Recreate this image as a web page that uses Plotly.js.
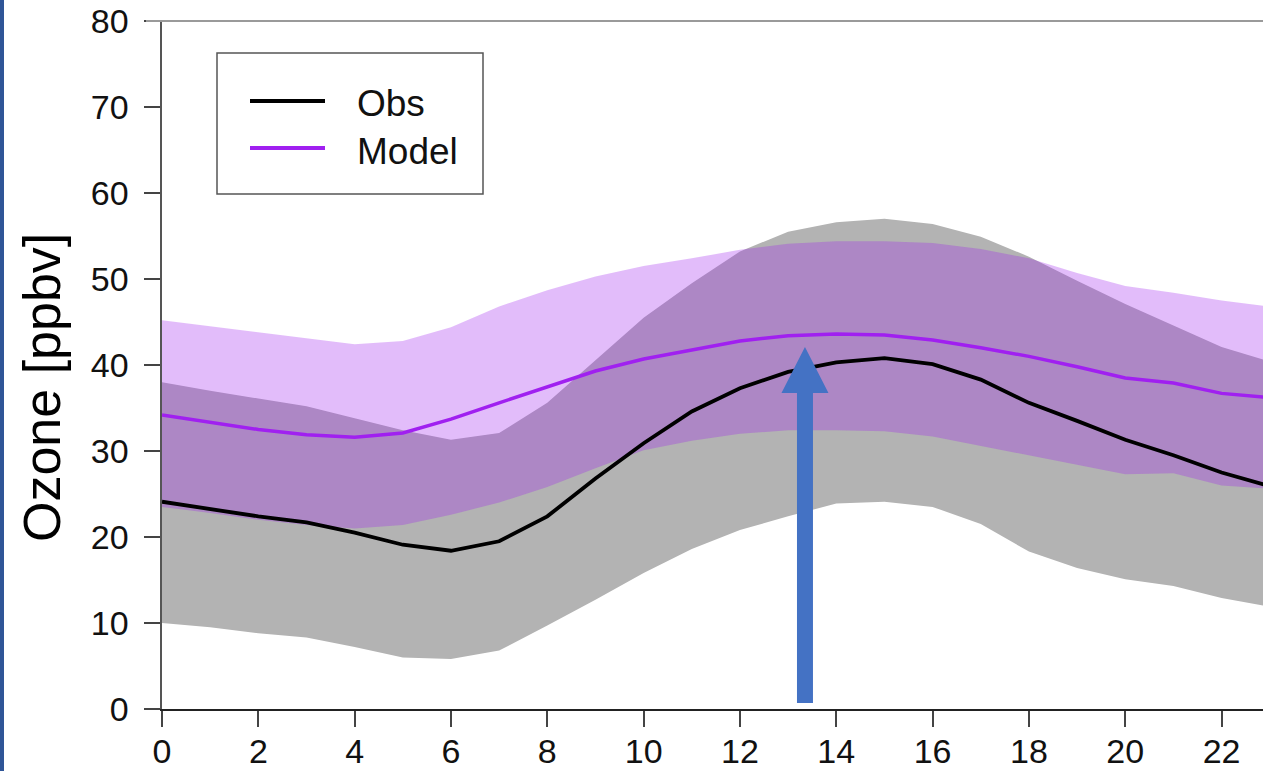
<!DOCTYPE html>
<html>
<head>
<meta charset="utf-8">
<script src="https://cdn.plot.ly/plotly-3.0.1.min.js"></script>
<style>
  html, body { margin: 0; padding: 0; background: #ffffff; }
  #chart { width: 1263px; height: 771px; }
</style>
</head>
<body>
<div id="chart"></div>
<script>
// Hour of day
const hours = [0,1,2,3,4,5,6,7,8,9,10,11,12,13,14,15,16,17,18,19,20,21,22,23];
// Observed ozone mean and spread [ppbv]
const obsMean = [24.1,23.2,22.4,21.7,20.5,19.1,18.4,19.5,22.4,26.8,30.9,34.6,37.3,39.2,40.3,40.8,40.1,38.3,35.6,33.5,31.3,29.5,27.5,25.9];
const obsUpper = [38.0,37.0,36.1,35.2,33.8,32.4,31.3,32.1,35.6,40.5,45.5,49.5,53.2,55.5,56.6,57.0,56.4,54.9,52.6,49.8,47.1,44.6,42.1,40.4];
const obsLower = [10.0,9.5,8.8,8.3,7.2,6.0,5.8,6.8,9.7,12.7,15.8,18.6,20.8,22.4,23.9,24.1,23.5,21.5,18.3,16.4,15.1,14.3,12.9,11.9];
// Model ozone mean and spread [ppbv]
const modelMean = [34.2,33.3,32.5,31.9,31.6,32.1,33.7,35.6,37.5,39.3,40.7,41.8,42.8,43.4,43.6,43.5,42.9,42.0,41.0,39.8,38.5,37.9,36.7,36.2];
const modelUpper = [45.2,44.5,43.8,43.1,42.4,42.8,44.4,46.8,48.7,50.3,51.5,52.4,53.4,54.1,54.4,54.4,54.2,53.5,52.4,50.7,49.2,48.4,47.5,46.8];
const modelLower = [23.5,22.8,22.0,21.4,21.0,21.4,22.6,24.0,25.8,28.0,30.1,31.2,32.0,32.4,32.4,32.3,31.7,30.6,29.5,28.4,27.3,27.4,26.0,25.6];
// Axis ticks
const xTicks = [0,2,4,6,8,10,12,14,16,18,20,22];
const yTicks = [0,10,20,30,40,50,60,70,80];
// Legend labels and axis title
const seriesNames = ["Obs", "Model"];
const yTitle = "Ozone [ppbv]";
// Highlight arrow (hour, ozone) annotation
const arrowHour = 13.35;
const arrowBase = 0.7;
const arrowTip = 42.1;
const arrowHeadBase = 36.75;

const FONT = "Liberation Sans, Arial, Helvetica, sans-serif";
const PURPLE = "rgb(160,32,240)";

const traces = [
  {x: hours, y: obsLower, mode: "lines", line: {width: 0, color: "rgba(0,0,0,0)"}, showlegend: false, hoverinfo: "skip"},
  {x: hours, y: obsUpper, mode: "lines", fill: "tonexty", fillcolor: "#b3b3b3", line: {width: 0, color: "rgba(0,0,0,0)"}, showlegend: false, hoverinfo: "skip"},
  {x: hours, y: modelLower, mode: "lines", line: {width: 0, color: "rgba(0,0,0,0)"}, showlegend: false, hoverinfo: "skip"},
  {x: hours, y: modelUpper, mode: "lines", fill: "tonexty", fillcolor: "rgba(160,32,240,0.3)", line: {width: 0, color: "rgba(0,0,0,0)"}, showlegend: false, hoverinfo: "skip"},
  {x: hours, y: obsMean, mode: "lines", name: seriesNames[0], line: {color: "#000000", width: 3.8}, showlegend: false},
  {x: hours, y: modelMean, mode: "lines", name: seriesNames[1], line: {color: PURPLE, width: 3.5}, showlegend: false}
];

// plot area geometry (px) for paper-relative legend placement
const L = 162, T = 21, W = 1101, H = 688;
const px = v => (v - L) / W;
const py = v => (T + H - v) / H;

const hw = 0.166, hh = 0.488;
const arrowPath = "M " + (arrowHour - hw) + "," + arrowBase +
  " L " + (arrowHour - hw) + "," + arrowHeadBase +
  " L " + (arrowHour - hh) + "," + arrowHeadBase +
  " L " + arrowHour + "," + arrowTip +
  " L " + (arrowHour + hh) + "," + arrowHeadBase +
  " L " + (arrowHour + hw) + "," + arrowHeadBase +
  " L " + (arrowHour + hw) + "," + arrowBase + " Z";

const shapes = [
  // top border
  {type: "line", xref: "paper", yref: "paper", x0: px(146), x1: 1, y0: 1, y1: 1, line: {color: "#9a9a9a", width: 2}},
  // left blue strip
  {type: "rect", xref: "paper", yref: "paper", x0: px(0), x1: px(4), y0: py(771), y1: py(0), fillcolor: "#2f5597", line: {width: 0}},
  // arrow
  {type: "path", xref: "x", yref: "y", path: arrowPath, fillcolor: "#4472c4", line: {width: 0}, layer: "above"},
  // legend box
  {type: "rect", xref: "paper", yref: "paper", x0: px(217), x1: px(483), y0: py(194), y1: py(53), fillcolor: "#ffffff", line: {color: "#555555", width: 1.5}, layer: "above"},
  {type: "line", xref: "paper", yref: "paper", x0: px(250), x1: px(325), y0: py(101), y1: py(101), line: {color: "#000000", width: 4}, layer: "above"},
  {type: "line", xref: "paper", yref: "paper", x0: px(250), x1: px(325), y0: py(148), y1: py(148), line: {color: PURPLE, width: 4}, layer: "above"}
];

const annotations = [
  {xref: "paper", yref: "paper", x: px(355), y: py(103), text: seriesNames[0], showarrow: false, xanchor: "left", yanchor: "middle", font: {family: FONT, size: 37, color: "#111111"}},
  {xref: "paper", yref: "paper", x: px(355), y: py(151), text: seriesNames[1], showarrow: false, xanchor: "left", yanchor: "middle", font: {family: FONT, size: 37, color: "#111111"}},
  {xref: "paper", yref: "paper", x: px(42), y: py(388), text: yTitle, textangle: -90, showarrow: false, xanchor: "center", yanchor: "middle", font: {family: FONT, size: 52, color: "#000000"}}
];

const layout = {
  width: 1263, height: 771,
  margin: {l: L, r: 0, t: T, b: 771 - T - H, pad: 0},
  paper_bgcolor: "#ffffff", plot_bgcolor: "#ffffff",
  showlegend: false,
  font: {family: FONT, color: "#111111"},
  xaxis: {
    range: [0, 22.86], tickvals: xTicks, ticktext: xTicks.map(String),
    ticks: "outside", ticklen: 16, tickwidth: 2, tickcolor: "#444444",
    showline: true, linecolor: "#222222", linewidth: 2,
    showgrid: false, zeroline: false, ticklabelstandoff: -5,
    tickfont: {family: FONT, size: 34, color: "#111111"}
  },
  yaxis: {
    range: [0, 80], tickvals: yTicks, ticktext: yTicks.map(String),
    ticks: "outside", ticklen: 16, tickwidth: 2, tickcolor: "#444444",
    showline: true, linecolor: "#555555", linewidth: 2.5,
    showgrid: false, zeroline: false, ticklabelstandoff: 8,
    tickfont: {family: FONT, size: 34, color: "#111111"}
  },
  shapes: shapes,
  annotations: annotations
};

Plotly.newPlot("chart", traces, layout, {displayModeBar: false, staticPlot: true});
</script>
</body>
</html>
